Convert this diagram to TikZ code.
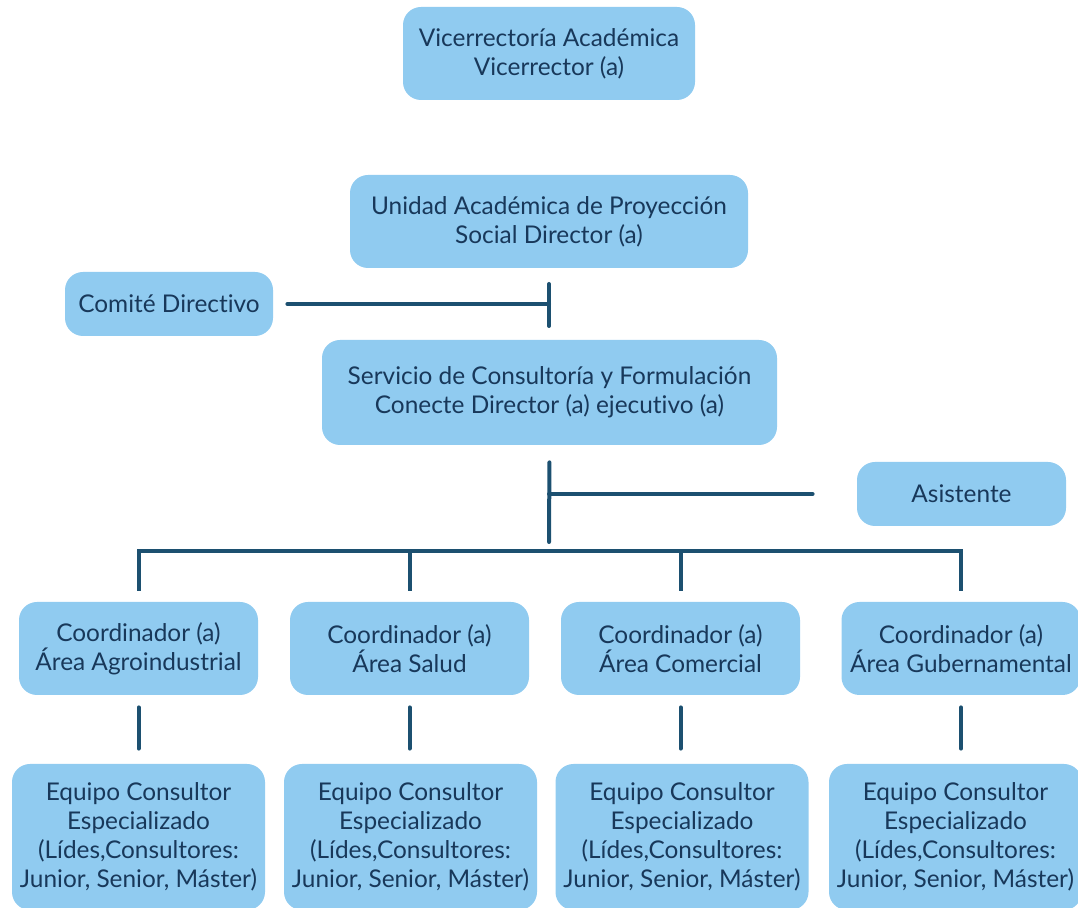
\documentclass[tikz,border=0pt]{standalone}
\usepackage{fontspec}
\setmainfont[Ligatures=NoCommon]{Lato}
\usepackage{xcolor}
\usetikzlibrary{positioning, calc}
\definecolor{boxblue}{RGB}{144, 203, 240}
\definecolor{linkblue}{RGB}{28, 80, 112}
\definecolor{textnavy}{RGB}{24, 56, 90}

\begin{document}
\begin{tikzpicture}[
        x=0.5pt, y=-0.5pt,
        block/.style={fill=boxblue, rounded corners=9pt, align=center, text=textnavy,
            font=\fontsize{12.2}{14.5}\selectfont, inner sep=0pt},
        conn/.style={draw=linkblue, line width=2pt, line cap=round}
    ]
        \useasboundingbox (0, 0) rectangle (1078, 908);

        % Top levels
        \node[block, minimum width=146pt, minimum height=46.5pt] (vice) at (549, 53.5) {Vicerrectoría Académica\\Vicerrector (a)};
        \node[block, minimum width=199pt, minimum height=46.5pt] (unidad) at (549, 221.5) {Unidad Académica de Proyección\\Social Director (a)};
        \node[block, minimum width=104pt, minimum height=32pt] (comite) at (169, 304) {Comité Directivo};
        \node[block, minimum width=227.5pt, minimum height=52.5pt] (servicio) at (549.5, 392.5) {Servicio de Consultoría y Formulación\\Conecte Director (a) ejecutivo (a)};
        \node[block, minimum width=104.5pt, minimum height=32pt] (asis) at (961.5, 494) {Asistente};

        % Coordinators
        \node[block, minimum width=119.5pt, minimum height=46.5pt] (c1) at (138.5, 648.5) {Coordinador (a)\\Área Agroindustrial};
        \node[block, minimum width=119.5pt, minimum height=46.5pt] (c2) at (409.5, 648.5) {Coordinador (a)\\Área Salud};
        \node[block, minimum width=119.5pt, minimum height=46.5pt] (c3) at (680.5, 648.5) {Coordinador (a)\\Área Comercial};
        \node[block, minimum width=119.5pt, minimum height=46.5pt] (c4) at (961, 648.5) {Coordinador (a)\\Área Gubernamental};

        % Teams
        \foreach \i/\xx in {1/138.5, 2/410.5, 3/682, 4/955.5}
            \node[block, minimum width=126.5pt, minimum height=73pt] (e\i) at (\xx, 837)
                {Equipo Consultor\\Especializado\\(Lídes,Consultores:\\Junior, Senior, Máster)};

        % Junctions
        \coordinate (tick) at (549, 304);
        \coordinate (junc) at (549, 494);
        \coordinate (bus) at (549, 551);

        % Lines
        \draw[conn, shorten <=7pt] (comite.east) -- (tick);
        \draw[conn] ([yshift=10pt]tick) -- ([yshift=-11pt]tick);
        \draw[conn, shorten <=8.5pt, shorten >=4.5pt] (servicio.south) -- (bus);
        \draw[conn, shorten >=22pt] (junc) -- (asis.west);
        \draw[conn, line cap=butt] ([yshift=5.5pt]c1.north) |- (bus) -| ([yshift=5.5pt]c4.north);
        \foreach \c in {c2, c3}
            \draw[conn, line cap=butt] (\c.north |- bus) -- ([yshift=5.5pt]\c.north);
        \foreach \i in {1, 2, 3, 4}
            \draw[conn, shorten <=6pt, shorten >=7.5pt] (c\i.south) -- (c\i.south |- e\i.north);
    \end{tikzpicture}
\end{document}
